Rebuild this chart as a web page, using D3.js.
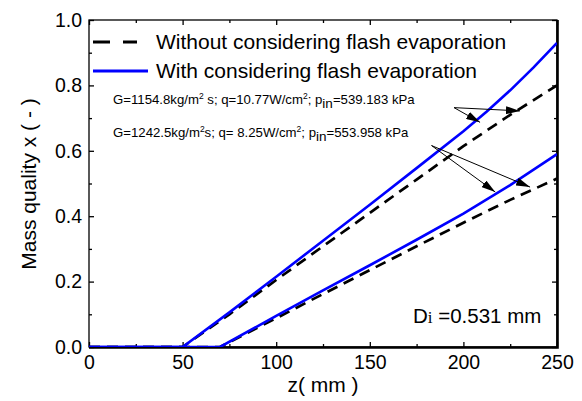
<!DOCTYPE html>
<html>
<head>
<meta charset="utf-8">
<script src="https://cdn.jsdelivr.net/npm/d3@7"></script>
<style>
  body { margin: 0; background: #fff; }
  text { font-family: "Liberation Sans", Arial, sans-serif; fill: #000; }
</style>
</head>
<body>
<div id="chart"></div>
<script>
// chart values
var zUpper = [0, 50, 75, 100, 125, 150, 175, 200, 212.5, 225, 237.5, 250];
var upperFlash = [0, 0, 0.106, 0.215, 0.325, 0.435, 0.547, 0.66, 0.72, 0.785, 0.855, 0.93];
var upperNoFlash = [0, 0, 0.1, 0.205, 0.308, 0.41, 0.512, 0.614, 0.662, 0.71, 0.755, 0.80];

var zLower = [0, 70, 100, 125, 150, 175, 200, 225, 250];
var lowerFlash = [0, 0, 0.095, 0.173, 0.25, 0.328, 0.408, 0.495, 0.59];
var lowerNoFlash = [0, 0, 0.088, 0.162, 0.235, 0.308, 0.38, 0.45, 0.515];

var xTicks = [0, 50, 100, 150, 200, 250];
var yTicks = [0, 0.2, 0.4, 0.6, 0.8, 1.0];

// arrows in data units: [z0, x0, z1, x1]
var arrows = [
  [195.0, 0.732, 230.2, 0.722],
  [195.0, 0.732, 208.9, 0.687],
  [183.0, 0.616, 235.6, 0.489],
  [183.0, 0.616, 217.0, 0.474]
];

var svgWidth = 582;
var svgHeight = 401;
var margin = { top: 20, right: 25, bottom: 54, left: 89 };
var width = svgWidth - margin.left - margin.right;
var height = svgHeight - margin.top - margin.bottom;

var svg = d3.select("#chart")
  .append("svg")
  .attr("width", svgWidth)
  .attr("height", svgHeight);

var defs = svg.append("defs");
defs.append("marker")
  .attr("id", "head")
  .attr("viewBox", "0 0 14 8")
  .attr("refX", 14)
  .attr("refY", 4)
  .attr("markerWidth", 14)
  .attr("markerHeight", 8)
  .attr("markerUnits", "userSpaceOnUse")
  .attr("orient", "auto")
  .append("path")
  .attr("d", "M0,0 L14,4 L0,8 Z")
  .attr("fill", "#000");
defs.append("clipPath").attr("id", "clip")
  .append("rect").attr("width", width).attr("height", height);

var g = svg.append("g")
  .attr("transform", `translate(${margin.left}, ${margin.top})`);

var xScale = d3.scaleLinear().domain([0, 250]).range([0, width]);
var yScale = d3.scaleLinear().domain([0, 1]).range([height, 0]);

// axes, ticks pointing inward
var fmtY = d3.format(".1f");
g.append("g")
  .attr("class", "axis")
  .attr("transform", `translate(0, ${height})`)
  .call(d3.axisBottom(xScale).tickValues(xTicks).tickSize(-5).tickPadding(8));
g.append("g")
  .attr("transform", `translate(0, ${height})`)
  .call(d3.axisBottom(xScale).tickValues(d3.range(25, 250, 50)).tickSize(-3).tickFormat(""));
g.append("g")
  .attr("class", "axis")
  .call(d3.axisLeft(yScale).tickValues(yTicks).tickSize(-5).tickPadding(7).tickFormat(fmtY));
g.append("g")
  .call(d3.axisLeft(yScale).tickValues(d3.range(0.1, 1, 0.2)).tickSize(-3).tickFormat(""));
g.append("g")
  .call(d3.axisTop(xScale).tickValues(xTicks).tickSize(-5).tickFormat(""));
g.append("g")
  .call(d3.axisTop(xScale).tickValues(d3.range(25, 250, 50)).tickSize(-3).tickFormat(""));
g.append("g")
  .attr("transform", `translate(${width}, 0)`)
  .call(d3.axisRight(yScale).tickValues(yTicks).tickSize(-5).tickFormat(""));
g.append("g")
  .attr("transform", `translate(${width}, 0)`)
  .call(d3.axisRight(yScale).tickValues(d3.range(0.1, 1, 0.2)).tickSize(-3).tickFormat(""));

g.selectAll(".domain").remove();
g.selectAll(".tick line").attr("stroke", "#000").attr("stroke-width", 1.3);
g.selectAll(".axis text")
  .style("font-size", "19.5px")
  .style("font-family", "'Liberation Sans', Arial, sans-serif")
  .attr("fill", "#000");

// frame, right and bottom edges heavier
g.append("rect")
  .attr("width", width).attr("height", height)
  .attr("fill", "none").attr("stroke", "#000").attr("stroke-width", 1.3);
g.append("path")
  .attr("d", `M${width + 0.5},0 V${height + 0.5} H0`)
  .attr("fill", "none").attr("stroke", "#000").attr("stroke-width", 2.6);

// curves
var line = d3.line()
  .x(d => xScale(d[0]))
  .y(d => yScale(d[1]));

var plot = g.append("g").attr("clip-path", "url(#clip)");
var dashed = [d3.zip(zUpper, upperNoFlash), d3.zip(zLower, lowerNoFlash)];
var solid = [d3.zip(zUpper, upperFlash), d3.zip(zLower, lowerFlash)];

plot.selectAll(".nf")
  .data(dashed)
  .enter()
  .append("path")
  .attr("d", line)
  .attr("fill", "none")
  .attr("stroke", "#000")
  .attr("stroke-width", 2.7)
  .attr("stroke-dasharray", "11,7");

plot.selectAll(".wf")
  .data(solid)
  .enter()
  .append("path")
  .attr("d", line)
  .attr("fill", "none")
  .attr("stroke", "#0000ff")
  .attr("stroke-width", 2.6);

// legend
g.append("line")
  .attr("x1", 4).attr("x2", 48).attr("y1", 22).attr("y2", 22)
  .attr("stroke", "#000").attr("stroke-width", 2.8)
  .attr("stroke-dasharray", "17,13");
g.append("line")
  .attr("x1", 4).attr("x2", 59).attr("y1", 51).attr("y2", 51)
  .attr("stroke", "#0000ff").attr("stroke-width", 2.8);
g.append("text")
  .attr("x", 67).attr("y", 29)
  .style("font-size", "21px")
  .text("Without considering flash evaporation");
g.append("text")
  .attr("x", 67).attr("y", 58)
  .style("font-size", "21px")
  .text("With considering flash evaporation");

// annotations
function annot(y, parts) {
  var t = g.append("text")
    .attr("x", 24).attr("y", y)
    .style("font-size", "13.2px");
  parts.forEach(function(p) {
    var s = t.append("tspan").text(p[0]);
    if (p[1] === "sup") s.attr("dy", -5).style("font-size", "8.5px");
    if (p[1] === "base") s.attr("dy", 5);
    if (p[1] === "sub") s.attr("dy", 4).style("font-size", "13.5px");
    if (p[1] === "up") s.attr("dy", -4);
  });
}
annot(84, [["G=1154.8kg/m"], ["2", "sup"], [" s; q=10.77W/cm", "base"], ["2", "sup"],
  ["; p", "base"], ["in", "sub"], ["=539.183 kPa", "up"]]);
annot(117, [["G=1242.5kg/m"], ["2", "sup"], ["s; q= 8.25W/cm", "base"], ["2", "sup"],
  ["; p", "base"], ["in", "sub"], ["=553.958 kPa", "up"]]);

g.selectAll(".arrow")
  .data(arrows)
  .enter()
  .append("line")
  .attr("x1", d => xScale(d[0]))
  .attr("y1", d => yScale(d[1]))
  .attr("x2", d => xScale(d[2]))
  .attr("y2", d => yScale(d[3]))
  .attr("stroke", "#000")
  .attr("stroke-width", 1)
  .attr("marker-end", "url(#head)");

var di = g.append("text")
  .attr("x", 324).attr("y", 303)
  .style("font-size", "20.5px");
di.append("tspan").text("D");
di.append("tspan").text("i").style("font-family", "'Liberation Serif', serif").style("font-size", "17px");
di.append("tspan").text(" =0.531 mm");

// axis labels
svg.append("text")
  .attr("x", 323).attr("y", 392)
  .attr("text-anchor", "middle")
  .style("font-size", "21px")
  .text("z( mm )");

svg.append("text")
  .attr("transform", "rotate(-90)")
  .attr("x", -184).attr("y", 36)
  .attr("text-anchor", "middle")
  .style("font-size", "21px")
  .text("Mass quality x ( - )");
</script>
</body>
</html>
